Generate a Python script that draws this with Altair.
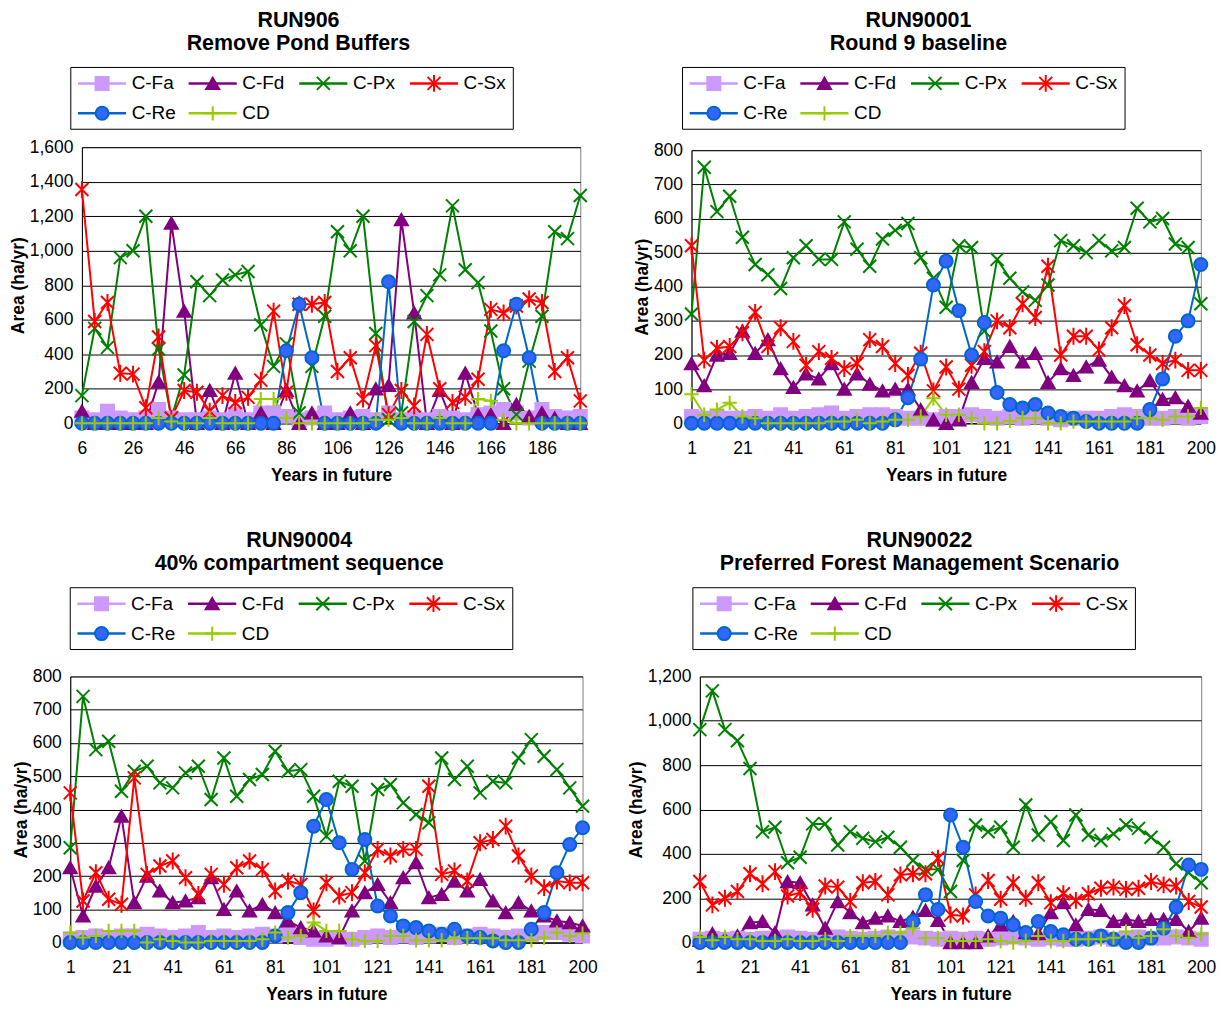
import altair as alt
import pandas as pd

FONT = "Liberation Sans"

SERIES = ["C-Fa", "C-Fd", "C-Px", "C-Sx", "C-Re", "CD"]
LINE_COLORS = ["#CC99FF", "#800080", "#008000", "#FF0000", "#0066CC", "#99CC00"]
FILL_COLORS = ["#CC99FF", "#800080", "#008000", "#FF0000", "#3366FF", "#99CC00"]
SHAPES = [
    "square",
    "triangle-up",
    "M-1,-1L1,1M1,-1L-1,1",
    "M-1,-1L1,1M1,-1L-1,1M0,-1.3L0,1.3",
    "circle",
    "M-1.1,0L1.1,0M0,-1.1L0,1.1",
]

# ---------------- categories ----------------
YEARS_A = [6, 11, 16, 21, 26, 31, 36, 41, 46, 51, 56, 61, 66, 71, 76, 81, 86, 91, 96, 101,
           106, 111, 116, 121, 126, 131, 136, 141, 146, 151, 156, 161, 166, 171, 176, 181,
           186, 191, 196, 201]
TICKS_A = [6, 26, 46, 66, 86, 106, 126, 146, 166, 186]

YEARS_B = [1, 6, 11, 16, 21, 26, 31, 36, 41, 46, 51, 56, 61, 66, 71, 76, 81, 86, 91, 96,
           101, 106, 111, 116, 121, 126, 131, 136, 141, 146, 151, 156, 161, 166, 171, 176,
           181, 186, 191, 196, 200]
TICKS_B = [1, 21, 41, 61, 81, 101, 121, 141, 161, 181, 200]

# ---------------- RUN906 ----------------
P1_FA = [30, 20, 70, 30, 20, 30, 80, 30, 20, 20, 30, 20, 50, 20, 60, 60, 40, 20, 30, 60,
         20, 30, 40, 20, 60, 20, 30, 20, 40, 30, 20, 50, 60, 80, 60, 30, 80, 40, 30, 40]
P1_FD = [70, 0, 0, 0, 0, 0, 240, 1160, 650, 0, 190, 0, 290, 0, 60, 0, 190, 0, 60, 0,
         0, 60, 0, 200, 220, 1180, 640, 0, 190, 0, 290, 50, 50, 0, 110, 40, 60, 30, 0, 0]
P1_PX = [160, 550, 440, 960, 1000, 1200, 430, 30, 280, 820, 740, 830, 860, 880, 570, 330, 460, 60, 330, 620,
         1110, 1000, 1200, 520, 20, 60, 590, 740, 860, 1260, 890, 815, 535, 200, 50, 360, 620, 1110, 1070, 1320]
P1_SX = [1355, 590, 700, 290, 285, 90, 500, 30, 190, 180, 70, 160, 120, 150, 250, 650, 180, 690, 690, 700,
         300, 380, 140, 450, 50, 190, 100, 515, 200, 120, 150, 255, 660, 640, 680, 720, 700, 300, 380, 130]
P1_RE = [0, 0, 0, 0, 0, 0, 0, 0, 0, 0, 0, 0, 0, 0, 0, 0, 420, 690, 380, 0,
         0, 0, 0, 0, 820, 0, 0, 0, 0, 0, 0, 0, 0, 420, 690, 380, 0, 0, 0, 0]
P1_CD = [0, 0, 0, 0, 0, 0, 30, 10, 0, 0, 30, 0, 0, 0, 140, 140, 30, 0, 0, 0,
         0, 0, 0, 20, 20, 30, 0, 0, 30, 0, 0, 140, 130, 20, 0, 0, 0, 0, 0, 0]

# ---------------- RUN90001 ----------------
P2_FA = [20, 15, 20, 15, 15, 20, 15, 25, 15, 20, 25, 30, 15, 20, 25, 25, 20, 15, 15, 10,
         20, 20, 25, 20, 15, 20, 15, 20, 15, 10, 15, 15, 15, 20, 25, 20, 15, 15, 20, 15, 20]
P2_FD = [175, 110, 200, 205, 270, 205, 245, 160, 105, 145, 130, 175, 100, 145, 115, 95, 100, 100, 40, 10,
         0, 10, 120, 190, 180, 225, 180, 205, 120, 160, 140, 165, 185, 135, 110, 95, 125, 70, 75, 50, 30]
P2_PX = [320, 750, 620, 665, 545, 465, 435, 395, 485, 520, 480, 480, 590, 510, 460, 540, 565, 585, 485, 425,
         340, 520, 515, 270, 480, 425, 385, 360, 405, 535, 520, 500, 535, 505, 515, 630, 590, 600, 525, 515, 350]
P2_SX = [520, 185, 220, 225, 265, 325, 225, 280, 240, 170, 210, 190, 160, 175, 245, 225, 175, 140, 205, 95,
         165, 100, 170, 210, 300, 280, 350, 310, 460, 200, 255, 255, 215, 280, 345, 230, 200, 175, 185, 155, 155]
P2_RE = [0, 0, 0, 0, 0, 0, 0, 0, 0, 0, 0, 0, 0, 0, 0, 0, 10, 75, 188, 405,
         475, 330, 200, 295, 90, 55, 45, 55, 30, 20, 15, 5, 0, 0, 0, 0, 40, 130, 255, 300, 465]
P2_CD = [85, 25, 40, 60, 20, 15, 0, 0, 0, 0, 0, 5, 5, 10, 0, 5, 10, 10, 20, 73,
         25, 25, 15, 0, 0, 7, 15, 15, 0, 0, 5, 5, 5, 5, 5, 15, 15, 10, 20, 20, 45]

# ---------------- RUN90004 ----------------
P3_FA = [10, 15, 20, 15, 20, 20, 25, 20, 15, 20, 30, 15, 20, 15, 20, 25, 20, 25, 15, 10,
         10, 15, 10, 15, 20, 15, 20, 15, 20, 25, 15, 20, 25, 20, 15, 20, 25, 30, 30, 25, 20]
P3_FD = [225, 80, 170, 225, 380, 120, 200, 155, 120, 125, 135, 195, 100, 155, 95, 115, 90, 65, 45, 35,
         20, 15, 95, 150, 175, 120, 195, 240, 135, 145, 185, 155, 190, 125, 90, 120, 95, 80, 65, 60, 50]
P3_PX = [285, 740, 580, 605, 455, 515, 530, 480, 465, 510, 530, 430, 555, 440, 490, 505, 575, 515, 520, 440,
         320, 485, 470, 245, 460, 475, 420, 385, 360, 555, 490, 530, 450, 485, 480, 555, 610, 560, 520, 465, 410]
P3_SX = [450, 125, 210, 130, 115, 495, 205, 230, 245, 195, 145, 205, 175, 225, 245, 220, 155, 185, 175, 95,
         180, 140, 150, 210, 280, 260, 280, 280, 470, 205, 215, 185, 300, 310, 350, 260, 200, 165, 185, 180, 180]
P3_RE = [0, 0, 0, 0, 0, 0, 0, 0, 0, 0, 0, 0, 0, 0, 0, 0, 20, 90, 150, 350,
         430, 300, 220, 310, 110, 80, 50, 45, 35, 25, 40, 20, 15, 5, 0, 0, 40, 90, 210, 295, 345]
P3_CD = [30, 15, 20, 35, 35, 35, 0, 10, 5, 0, 0, 5, 5, 5, 5, 10, 30, 15, 20, 60,
         35, 35, 10, 5, 5, 20, 20, 7, 7, 7, 13, 13, 13, 13, 7, 7, 7, 15, 30, 20, 27]

# ---------------- RUN90022 ----------------
P4_FA = [15, 20, 15, 20, 15, 20, 20, 25, 20, 15, 20, 25, 20, 15, 20, 25, 20, 25, 20, 15,
         20, 15, 20, 15, 20, 25, 20, 15, 20, 15, 15, 20, 25, 15, 20, 25, 20, 20, 25, 20, 15]
P4_FD = [10, 40, 15, 30, 90, 95, 45, 275, 270, 170, 65, 185, 135, 90, 110, 120, 95, 115, 145, 100,
         0, 0, 0, 30, 80, 95, 45, 40, 135, 180, 80, 150, 145, 95, 105, 95, 105, 105, 105, 50, 110]
P4_PX = [960, 1135, 960, 910, 785, 500, 520, 360, 385, 535, 535, 440, 500, 470, 455, 475, 430, 370, 330, 330,
         230, 370, 530, 500, 520, 430, 620, 485, 545, 460, 575, 485, 460, 490, 530, 515, 475, 430, 355, 315, 270]
P4_SX = [275, 170, 200, 230, 310, 265, 320, 210, 225, 150, 255, 250, 185, 270, 275, 215, 305, 310, 310, 380,
         125, 120, 215, 280, 195, 270, 200, 270, 180, 220, 190, 220, 245, 250, 240, 245, 275, 260, 255, 185, 160]
P4_RE = [0, 0, 0, 0, 0, 0, 0, 0, 0, 0, 0, 0, 0, 0, 0, 0, 0, 95, 216, 149,
         575, 430, 185, 120, 110, 80, 45, 95, 50, 35, 15, 15, 30, 15, 0, 0, 20, 65, 160, 350, 330]
P4_CD = [25, 10, 25, 15, 15, 7, 7, 15, 7, 7, 15, 7, 30, 30, 30, 45, 45, 65, 20, 20,
         7, 7, 7, 15, 7, 0, 7, 30, 7, 7, 15, 15, 15, 22, 50, 22, 30, 60, 30, 22, 37]

stroke_scale = alt.Scale(domain=SERIES, range=LINE_COLORS)
fill_scale = alt.Scale(domain=SERIES, range=FILL_COLORS)
shape_scale = alt.Scale(domain=SERIES, range=SHAPES)

MARK_SIZE = 170
TITLE_SIZE = 21.5
LEGEND_BOX_W = 444
LEGEND_H = 62


def legend_chart(chart_w, box_off):
    ldf = pd.DataFrame({
        "series": SERIES,
        "col": [i % 4 for i in range(len(SERIES))],
        "row": [i // 4 for i in range(len(SERIES))],
    })
    base = alt.Chart(ldf).transform_calculate(
        x0="datum.col + 0.065", x1="datum.col + 0.5",
        xm="datum.col + 0.283", xt="datum.col + 0.55",
    )
    xs = alt.Scale(domain=[0, 4], range=[box_off, box_off + LEGEND_BOX_W], nice=False, zero=False)
    ys = alt.Scale(domain=[-0.533, 1.533], reverse=True, nice=False, zero=False)
    yenc = alt.Y("row:Q", scale=ys, axis=None)
    box = alt.Chart(pd.DataFrame({"box": ["legend"]})).mark_rect(
        fillOpacity=0, stroke="black", strokeWidth=1
    ).encode(
        x=alt.X(datum=0, scale=xs, axis=None), x2=alt.X2(datum=4),
        y=alt.Y(datum=-0.533, scale=ys, axis=None), y2=alt.Y2(datum=1.533),
    )
    rule = base.mark_rule(strokeWidth=2.5).encode(
        x=alt.X("x0:Q", scale=xs, axis=None), x2="x1:Q", y=yenc,
        stroke=alt.Stroke("series:N", scale=stroke_scale, legend=None),
    )
    pts = base.mark_point(size=MARK_SIZE, opacity=1, strokeWidth=2).encode(
        x=alt.X("xm:Q", scale=xs, axis=None), y=yenc,
        stroke=alt.Stroke("series:N", scale=stroke_scale, legend=None),
        fill=alt.Fill("series:N", scale=fill_scale, legend=None),
        shape=alt.Shape("series:N", scale=shape_scale, legend=None),
    )
    txt = base.mark_text(align="left", baseline="middle", fontSize=19, font=FONT, color="black").encode(
        x=alt.X("xt:Q", scale=xs, axis=None), y=yenc, text="series:N",
    )
    return alt.layer(box, rule, pts, txt).properties(
        width=chart_w, height=LEGEND_H, view=alt.ViewBackground(stroke="transparent")
    )


def plot_chart(years, ticks, data, ymax, ystep, w, h):
    rows = []
    for s, vals in zip(SERIES, data):
        for yr, v in zip(years, vals):
            rows.append({"year": yr, "series": s, "value": v})
    df = pd.DataFrame(rows)
    x = alt.X("year:O", sort=years, scale=alt.Scale(type="point", padding=0),
              axis=alt.Axis(values=ticks, labelAngle=0, title="Years in future",
                            grid=False, ticks=False, tickSize=0, labelPadding=16,
                            titlePadding=9.5))
    y = alt.Y("value:Q", scale=alt.Scale(domain=[0, ymax], nice=False, zero=True),
              axis=alt.Axis(values=list(range(0, ymax + 1, ystep)), format=",d",
                            title="Area (ha/yr)", grid=True, gridColor="#000000",
                            gridWidth=1, ticks=False, tickSize=0, labelPadding=9,
                            titlePadding=2))
    base = alt.Chart(df)
    lines = base.mark_line(strokeWidth=2, clip=False).encode(
        x=x, y=y, stroke=alt.Stroke("series:N", scale=stroke_scale, legend=None),
    )
    pts = base.mark_point(size=MARK_SIZE, opacity=1, strokeWidth=2, clip=False).encode(
        x=x, y=y,
        stroke=alt.Stroke("series:N", scale=stroke_scale, legend=None),
        fill=alt.Fill("series:N", scale=fill_scale, legend=None),
        shape=alt.Shape("series:N", scale=shape_scale, legend=None),
    )
    return alt.layer(lines, pts).properties(width=w, height=h)


def panel(title, subtitle, years, ticks, data, ymax, ystep, w, h, gap, leg_w, leg_off, tdx):
    return alt.vconcat(
        legend_chart(leg_w, leg_off),
        plot_chart(years, ticks, data, ymax, ystep, w, h),
        spacing=gap, center=True,
        title=alt.TitleParams(text=title, subtitle=subtitle, fontSize=TITLE_SIZE,
                              fontWeight="bold", font=FONT, color="black",
                              subtitleFont=FONT, subtitleFontSize=TITLE_SIZE,
                              subtitleFontWeight="bold", subtitleColor="black",
                              subtitlePadding=2, anchor="middle", offset=12, dx=tdx),
    )


p1 = panel("RUN906", "Remove Pond Buffers", YEARS_A, TICKS_A,
           [P1_FA, P1_FD, P1_PX, P1_SX, P1_RE, P1_CD], 1600, 200, 500, 277, 7,
           535.5, 1, -8)
p2 = panel("RUN90001", "Round 9 baseline", YEARS_B, TICKS_B,
           [P2_FA, P2_FD, P2_PX, P2_SX, P2_RE, P2_CD], 800, 100, 511, 274, 10,
           525.6, -9, -6)
p3 = panel("RUN90004", "40% compartment sequence", YEARS_B, TICKS_B,
           [P3_FA, P3_FD, P3_PX, P3_SX, P3_RE, P3_CD], 800, 100, 514, 267, 16,
           528.6, 0, -5.5)
p4 = panel("RUN90022", "Preferred Forest Management Scenario", YEARS_B, TICKS_B,
           [P4_FA, P4_FD, P4_PX, P4_SX, P4_RE, P4_CD], 1200, 200, 503, 267, 16,
           517.6, -7, -2)

row1 = alt.concat(p1, p2, columns=2, spacing=28.3, align="none")
row2 = alt.concat(p3, p4, columns=2, spacing=28.7, align="none")

chart = alt.concat(
    row1, row2, columns=1, spacing=46, align="none",
).properties(
    padding={"left": 0, "top": 0, "right": 0, "bottom": 0},
    background="white",
).configure_view(
    stroke="#808080", strokeWidth=1
).configure_axis(
    labelFont=FONT, labelFontSize=17.5, labelColor="black",
    titleFont=FONT, titleFontSize=17.5, titleFontWeight="bold", titleColor="black",
    domainColor="black", domainWidth=1,
).configure_title(
    font=FONT
)

chart.save("out.html", embed_options={"renderer": "svg", "actions": False})
